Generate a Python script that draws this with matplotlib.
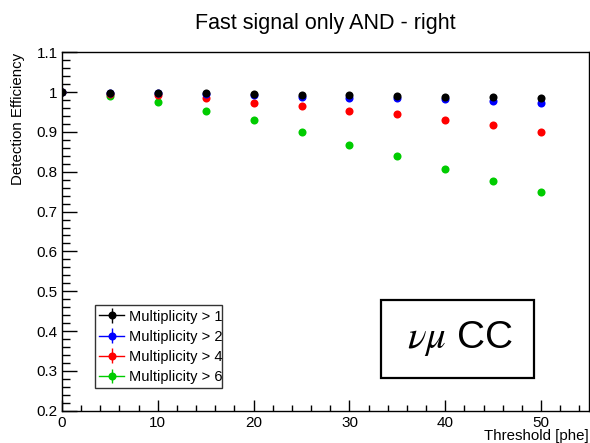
import matplotlib
matplotlib.use("Agg")
import matplotlib.pyplot as plt
from matplotlib.patches import Rectangle
from matplotlib.ticker import MultipleLocator, FuncFormatter

plt.rcParams["font.family"] = ["Liberation Sans", "DejaVu Sans"]
plt.rcParams["mathtext.fontset"] = "stix"

# thresholds [phe]
thresholds = [0, 5, 10, 15, 20, 25, 30, 35, 40, 45, 50]

# detection efficiency per multiplicity cut
eff_m1 = [1.000, 0.999, 0.999, 0.998, 0.996, 0.993, 0.993, 0.991, 0.989, 0.987, 0.984]
eff_m2 = [1.000, 0.998, 0.997, 0.996, 0.993, 0.987, 0.986, 0.985, 0.982, 0.978, 0.973]
eff_m4 = [1.000, 0.995, 0.993, 0.986, 0.972, 0.966, 0.953, 0.946, 0.930, 0.918, 0.901]
eff_m6 = [1.000, 0.990, 0.976, 0.953, 0.929, 0.899, 0.868, 0.840, 0.807, 0.776, 0.750]
err = [0.002] * len(thresholds)

labels = ["Multiplicity > 1", "Multiplicity > 2", "Multiplicity > 4", "Multiplicity > 6"]
colors = ["black", "#0000ff", "#ff0000", "#00cc00"]


def main():
    fig = plt.figure(figsize=(5.9, 4.43), dpi=100)
    ax = fig.add_axes([62 / 590, 1 - 410.7 / 443, 527 / 590, 358.4 / 443])

    series = [eff_m1, eff_m2, eff_m4, eff_m6]
    # green first so black ends up on top
    for eff, lab, col in reversed(list(zip(series, labels, colors))):
        ax.errorbar(thresholds, eff, yerr=err, fmt="o", color=col, ecolor=col,
                    markersize=5.8, markeredgewidth=0, elinewidth=1, capsize=0)

    ax.set_xlim(0, 55)
    ax.set_ylim(0.2, 1.1)

    ax.xaxis.set_major_locator(MultipleLocator(10))
    ax.xaxis.set_minor_locator(MultipleLocator(2))
    ax.yaxis.set_major_locator(MultipleLocator(0.1))
    ax.yaxis.set_minor_locator(MultipleLocator(0.02))
    ax.yaxis.set_major_formatter(FuncFormatter(lambda v, p: "%g" % round(v, 2)))

    ax.tick_params(axis="both", which="both", direction="in", top=False, right=False,
                   labelsize=11, width=1, color="black")
    ax.tick_params(axis="y", which="major", length=11, pad=3)
    ax.tick_params(axis="y", which="minor", length=6)
    ax.tick_params(axis="x", which="major", length=7.7, pad=4)
    ax.tick_params(axis="x", which="minor", length=4)
    for sp in ax.spines.values():
        sp.set_linewidth(1)

    # legend entries: line + marker + capped error bar, ROOT style
    leg_handles = []
    for col in colors:
        h = ax.errorbar([], [], yerr=[], fmt="o-", color=col, markersize=5.8,
                        markeredgewidth=0, lw=1, capsize=2.5)
        leg_handles.append(h)
    leg = ax.legend(leg_handles, labels, loc="lower left",
                    bbox_to_anchor=((95 - 62) / 527, (410.7 - 388.3) / 358.4,
                                    127 / 527, 89 / 358.4),
                    mode="expand", fontsize=10.5, frameon=True, fancybox=False,
                    borderpad=0.3, labelspacing=0.42, handlelength=1.7,
                    handletextpad=0.3, borderaxespad=0)
    leg.get_frame().set_edgecolor("black")
    leg.get_frame().set_linewidth(1)

    ax.text(460 / 590, 1 - 339 / 443, r"$\nu\mu$ CC", transform=fig.transFigure,
            ha="center", va="center", fontsize=28)
    fig.patches.append(Rectangle((381 / 590, 1 - 378.3 / 443), 153.3 / 590, 78.3 / 443,
                                 transform=fig.transFigure, fill=False,
                                 edgecolor="black", linewidth=1.6))

    fig.text(325.5 / 590, 1 - 29 / 443, "Fast signal only AND - right",
             ha="center", va="baseline", fontsize=15.5)
    fig.text(18 / 590, 1 - 53 / 443, "Detection Efficiency", rotation=90,
             ha="center", va="top", fontsize=10.8)
    fig.text(588.5 / 590, 1 - 440 / 443, "Threshold [phe]",
             ha="right", va="baseline", fontsize=10.8)

    fig.savefig("out.png", dpi=100)


if __name__ == "__main__":
    main()
